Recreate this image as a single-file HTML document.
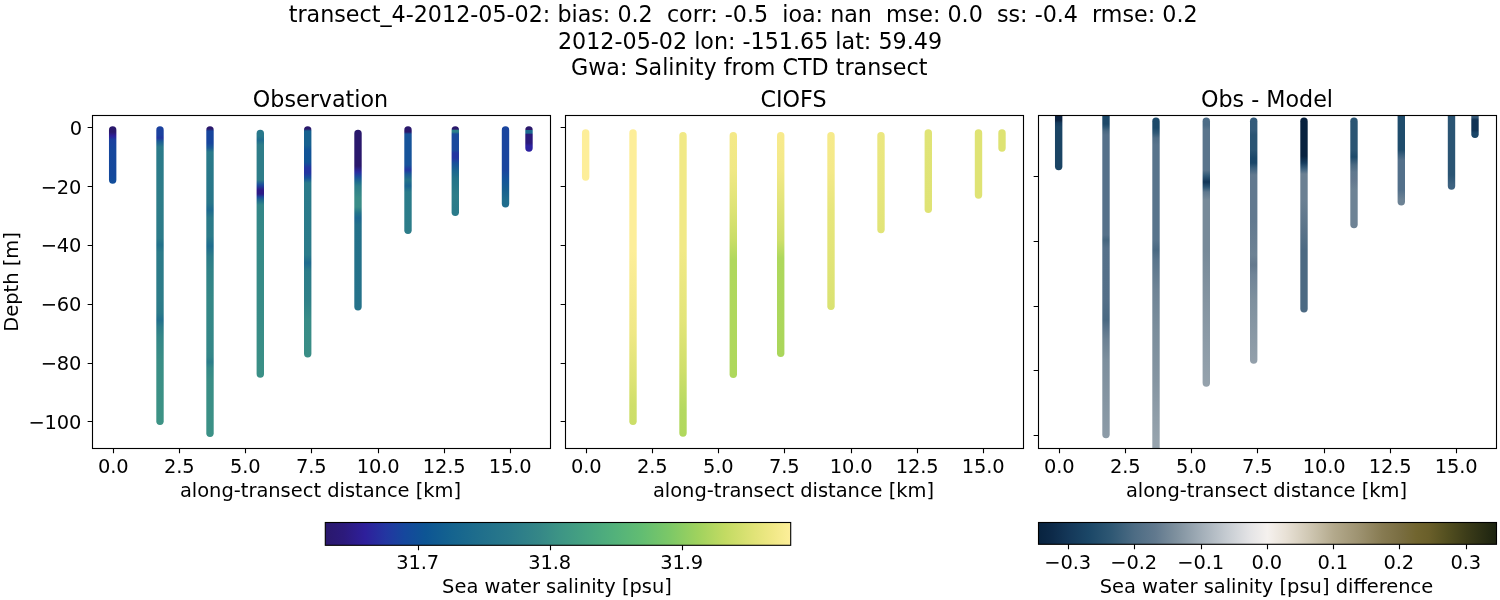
<!DOCTYPE html>
<html><head><meta charset="utf-8"><title>transect_4-2012-05-02</title>
<style>
html,body{margin:0;padding:0;background:#fff;}
body{width:1500px;height:600px;overflow:hidden;}
svg{display:block;}
text{font-family:"DejaVu Sans", "Liberation Sans", sans-serif;fill:#000;}
.t16{font-size:22.22px;}
.t14{font-size:19.44px;}
.tk{letter-spacing:-0.12px;}
</style></head><body>
<svg width="1500" height="600" viewBox="0 0 1500 600">
<rect x="0" y="0" width="1500" height="600" fill="#ffffff"/>
<defs>
<clipPath id="cp0"><rect x="92.5" y="115.5" width="458.0" height="333.0"/></clipPath>
<linearGradient id="g0_0" gradientUnits="userSpaceOnUse" x1="0" y1="126" x2="0" y2="184"><stop offset="0.0000" stop-color="#2a186c"/><stop offset="0.1034" stop-color="#2a186c"/><stop offset="0.1724" stop-color="#2e1f9a"/><stop offset="0.2414" stop-color="#1a409f"/><stop offset="0.4138" stop-color="#15479d"/><stop offset="0.8448" stop-color="#14489c"/><stop offset="1.0000" stop-color="#114f9b"/></linearGradient>
<linearGradient id="g0_1" gradientUnits="userSpaceOnUse" x1="0" y1="126" x2="0" y2="425"><stop offset="0.0000" stop-color="#1b419e"/><stop offset="0.0301" stop-color="#1b419e"/><stop offset="0.0401" stop-color="#2334a0"/><stop offset="0.0502" stop-color="#1a5a95"/><stop offset="0.0702" stop-color="#2a7a8a"/><stop offset="0.2475" stop-color="#2e7d89"/><stop offset="0.3746" stop-color="#2c7b89"/><stop offset="0.3980" stop-color="#227089"/><stop offset="0.4214" stop-color="#2c7b89"/><stop offset="0.5819" stop-color="#2d7c89"/><stop offset="0.6254" stop-color="#2b7a89"/><stop offset="0.6488" stop-color="#226f8c"/><stop offset="0.6722" stop-color="#2d7d89"/><stop offset="0.7057" stop-color="#348788"/><stop offset="0.7826" stop-color="#3a8e86"/><stop offset="1.0000" stop-color="#3d9385"/></linearGradient>
<linearGradient id="g0_2" gradientUnits="userSpaceOnUse" x1="0" y1="126" x2="0" y2="437"><stop offset="0.0000" stop-color="#2a186c"/><stop offset="0.0096" stop-color="#2a186c"/><stop offset="0.0161" stop-color="#17459d"/><stop offset="0.0547" stop-color="#17459d"/><stop offset="0.0707" stop-color="#1a5b95"/><stop offset="0.0836" stop-color="#2a7a8a"/><stop offset="0.2476" stop-color="#287689"/><stop offset="0.2701" stop-color="#1e6a8e"/><stop offset="0.2958" stop-color="#2b7a89"/><stop offset="0.3537" stop-color="#2c7b89"/><stop offset="0.3859" stop-color="#1f6c8e"/><stop offset="0.4180" stop-color="#2c7c89"/><stop offset="0.4630" stop-color="#318388"/><stop offset="0.5595" stop-color="#358887"/><stop offset="0.7203" stop-color="#348788"/><stop offset="0.7428" stop-color="#338588"/><stop offset="0.7588" stop-color="#2c7c89"/><stop offset="0.7781" stop-color="#358987"/><stop offset="0.8167" stop-color="#3a8e86"/><stop offset="1.0000" stop-color="#3c9186"/></linearGradient>
<linearGradient id="g0_3" gradientUnits="userSpaceOnUse" x1="0" y1="129" x2="0" y2="378"><stop offset="0.0000" stop-color="#28788b"/><stop offset="0.0281" stop-color="#28788b"/><stop offset="0.0442" stop-color="#1f6c8e"/><stop offset="0.0643" stop-color="#2e7d89"/><stop offset="0.2048" stop-color="#2e7d89"/><stop offset="0.2249" stop-color="#1b4b9c"/><stop offset="0.2450" stop-color="#2d1a86"/><stop offset="0.2610" stop-color="#2d1a86"/><stop offset="0.2731" stop-color="#1c4a9c"/><stop offset="0.2851" stop-color="#1f6a8e"/><stop offset="0.3052" stop-color="#338688"/><stop offset="0.4859" stop-color="#358a87"/><stop offset="0.7671" stop-color="#388c87"/><stop offset="1.0000" stop-color="#3b9086"/></linearGradient>
<linearGradient id="g0_4" gradientUnits="userSpaceOnUse" x1="0" y1="126" x2="0" y2="357"><stop offset="0.0000" stop-color="#2a186c"/><stop offset="0.0130" stop-color="#2a186c"/><stop offset="0.0216" stop-color="#17618f"/><stop offset="0.0823" stop-color="#17618f"/><stop offset="0.1039" stop-color="#125397"/><stop offset="0.1558" stop-color="#0f5495"/><stop offset="0.1818" stop-color="#2335a1"/><stop offset="0.2035" stop-color="#2335a1"/><stop offset="0.2251" stop-color="#15529a"/><stop offset="0.2468" stop-color="#2a7a8a"/><stop offset="0.5584" stop-color="#2b7b8a"/><stop offset="0.5931" stop-color="#1f6a8e"/><stop offset="0.6277" stop-color="#2c7c89"/><stop offset="0.7532" stop-color="#2f8088"/><stop offset="0.8398" stop-color="#388c87"/><stop offset="1.0000" stop-color="#3a8e86"/></linearGradient>
<linearGradient id="g0_5" gradientUnits="userSpaceOnUse" x1="0" y1="129" x2="0" y2="310"><stop offset="0.0000" stop-color="#2a186c"/><stop offset="0.2044" stop-color="#2a186c"/><stop offset="0.2376" stop-color="#2b2a9f"/><stop offset="0.2652" stop-color="#1a4f9a"/><stop offset="0.2928" stop-color="#1f6d8d"/><stop offset="0.3149" stop-color="#2d7d89"/><stop offset="0.3812" stop-color="#3a8c87"/><stop offset="0.4309" stop-color="#3a8c87"/><stop offset="0.4641" stop-color="#237389"/><stop offset="0.4917" stop-color="#1d6790"/><stop offset="0.5304" stop-color="#237089"/><stop offset="0.9448" stop-color="#25728a"/><stop offset="1.0000" stop-color="#26738a"/></linearGradient>
<linearGradient id="g0_6" gradientUnits="userSpaceOnUse" x1="0" y1="126" x2="0" y2="234"><stop offset="0.0000" stop-color="#2a186c"/><stop offset="0.0556" stop-color="#2a186c"/><stop offset="0.0741" stop-color="#16539a"/><stop offset="0.3611" stop-color="#16539a"/><stop offset="0.4074" stop-color="#2336a1"/><stop offset="0.4444" stop-color="#1a5996"/><stop offset="0.5000" stop-color="#237389"/><stop offset="0.5556" stop-color="#1a6490"/><stop offset="0.6111" stop-color="#2a7b8a"/><stop offset="1.0000" stop-color="#2d7d89"/></linearGradient>
<linearGradient id="g0_7" gradientUnits="userSpaceOnUse" x1="0" y1="126" x2="0" y2="216"><stop offset="0.0000" stop-color="#2a186c"/><stop offset="0.0333" stop-color="#2a186c"/><stop offset="0.0500" stop-color="#2a808a"/><stop offset="0.0667" stop-color="#2a808a"/><stop offset="0.0889" stop-color="#1a4a9d"/><stop offset="0.2667" stop-color="#1a4a9d"/><stop offset="0.3000" stop-color="#2336a1"/><stop offset="0.3556" stop-color="#2336a1"/><stop offset="0.4111" stop-color="#17509a"/><stop offset="0.4889" stop-color="#1a6490"/><stop offset="0.5778" stop-color="#237389"/><stop offset="0.7667" stop-color="#2d7d89"/><stop offset="1.0000" stop-color="#2a7a8a"/></linearGradient>
<linearGradient id="g0_8" gradientUnits="userSpaceOnUse" x1="0" y1="126" x2="0" y2="208"><stop offset="0.0000" stop-color="#1a459e"/><stop offset="0.5366" stop-color="#1a459e"/><stop offset="0.6585" stop-color="#14559a"/><stop offset="0.7805" stop-color="#17608f"/><stop offset="0.9024" stop-color="#1f6d8d"/><stop offset="1.0000" stop-color="#1f6d8d"/></linearGradient>
<linearGradient id="g0_9" gradientUnits="userSpaceOnUse" x1="0" y1="126" x2="0" y2="152"><stop offset="0.0000" stop-color="#2a186c"/><stop offset="0.1346" stop-color="#2a186c"/><stop offset="0.1731" stop-color="#1c6a8f"/><stop offset="0.2692" stop-color="#1c6a8f"/><stop offset="0.3269" stop-color="#2b1a7c"/><stop offset="0.6538" stop-color="#2b1a7c"/><stop offset="0.7692" stop-color="#2d22a0"/><stop offset="1.0000" stop-color="#2d22a0"/></linearGradient>
<clipPath id="cp1"><rect x="565.5" y="115.5" width="458.0" height="333.0"/></clipPath>
<linearGradient id="g1_0" gradientUnits="userSpaceOnUse" x1="0" y1="129" x2="0" y2="181"><stop offset="0.0000" stop-color="#fdee99"/><stop offset="1.0000" stop-color="#fdee99"/></linearGradient>
<linearGradient id="g1_1" gradientUnits="userSpaceOnUse" x1="0" y1="129" x2="0" y2="425"><stop offset="0.0000" stop-color="#fdee99"/><stop offset="0.4088" stop-color="#fdee99"/><stop offset="0.6791" stop-color="#f0e886"/><stop offset="0.8480" stop-color="#dde374"/><stop offset="0.9324" stop-color="#cfdf6a"/><stop offset="1.0000" stop-color="#cbde68"/></linearGradient>
<linearGradient id="g1_2" gradientUnits="userSpaceOnUse" x1="0" y1="132" x2="0" y2="437"><stop offset="0.0000" stop-color="#f1e986"/><stop offset="0.3869" stop-color="#f1e986"/><stop offset="0.6164" stop-color="#e3e579"/><stop offset="0.7803" stop-color="#cfdf6a"/><stop offset="0.9115" stop-color="#b4d960"/><stop offset="1.0000" stop-color="#b0d85d"/></linearGradient>
<linearGradient id="g1_3" gradientUnits="userSpaceOnUse" x1="0" y1="132" x2="0" y2="378"><stop offset="0.0000" stop-color="#f4e988"/><stop offset="0.1545" stop-color="#f0e885"/><stop offset="0.3171" stop-color="#dde374"/><stop offset="0.4390" stop-color="#c9dd67"/><stop offset="0.5203" stop-color="#b0d85d"/><stop offset="1.0000" stop-color="#aed85c"/></linearGradient>
<linearGradient id="g1_4" gradientUnits="userSpaceOnUse" x1="0" y1="132" x2="0" y2="357"><stop offset="0.0000" stop-color="#f8ea8d"/><stop offset="0.1689" stop-color="#f3e988"/><stop offset="0.3467" stop-color="#dfe376"/><stop offset="0.4800" stop-color="#cfdf6a"/><stop offset="0.5600" stop-color="#aed85c"/><stop offset="1.0000" stop-color="#aad65b"/></linearGradient>
<linearGradient id="g1_5" gradientUnits="userSpaceOnUse" x1="0" y1="132" x2="0" y2="310"><stop offset="0.0000" stop-color="#f6ea8b"/><stop offset="0.2135" stop-color="#f4e989"/><stop offset="0.4382" stop-color="#e7e67c"/><stop offset="0.7191" stop-color="#e1e477"/><stop offset="1.0000" stop-color="#d9e272"/></linearGradient>
<linearGradient id="g1_6" gradientUnits="userSpaceOnUse" x1="0" y1="132" x2="0" y2="233"><stop offset="0.0000" stop-color="#ebe780"/><stop offset="0.4752" stop-color="#e8e67d"/><stop offset="1.0000" stop-color="#e1e477"/></linearGradient>
<linearGradient id="g1_7" gradientUnits="userSpaceOnUse" x1="0" y1="129" x2="0" y2="213"><stop offset="0.0000" stop-color="#e0e476"/><stop offset="1.0000" stop-color="#dfe375"/></linearGradient>
<linearGradient id="g1_8" gradientUnits="userSpaceOnUse" x1="0" y1="129" x2="0" y2="199"><stop offset="0.0000" stop-color="#dfe374"/><stop offset="1.0000" stop-color="#dfe374"/></linearGradient>
<linearGradient id="g1_9" gradientUnits="userSpaceOnUse" x1="0" y1="129" x2="0" y2="152"><stop offset="0.0000" stop-color="#dee373"/><stop offset="1.0000" stop-color="#dee373"/></linearGradient>
<clipPath id="cp2"><rect x="1038.5" y="115.5" width="458.0" height="333.0"/></clipPath>
<linearGradient id="g2_0" gradientUnits="userSpaceOnUse" x1="0" y1="115" x2="0" y2="171"><stop offset="0.0000" stop-color="#0c2340"/><stop offset="0.0893" stop-color="#0c2340"/><stop offset="0.1429" stop-color="#153b5d"/><stop offset="0.2143" stop-color="#1a4464"/><stop offset="1.0000" stop-color="#1a4464"/></linearGradient>
<linearGradient id="g2_1" gradientUnits="userSpaceOnUse" x1="0" y1="115" x2="0" y2="438"><stop offset="0.0000" stop-color="#1c4868"/><stop offset="0.0279" stop-color="#1c4868"/><stop offset="0.0372" stop-color="#2b5573"/><stop offset="0.0495" stop-color="#4a6982"/><stop offset="0.0619" stop-color="#56718a"/><stop offset="0.3715" stop-color="#56718a"/><stop offset="0.3870" stop-color="#46667f"/><stop offset="0.4118" stop-color="#56718a"/><stop offset="0.5728" stop-color="#546f88"/><stop offset="0.6347" stop-color="#4a6982"/><stop offset="0.6594" stop-color="#5a748b"/><stop offset="0.6966" stop-color="#6d8294"/><stop offset="0.7585" stop-color="#7d8f9d"/><stop offset="0.8824" stop-color="#8595a2"/><stop offset="1.0000" stop-color="#8c9ba7"/></linearGradient>
<linearGradient id="g2_2" gradientUnits="userSpaceOnUse" x1="0" y1="117" x2="0" y2="449"><stop offset="0.0000" stop-color="#1d4a6a"/><stop offset="0.0331" stop-color="#1d4a6a"/><stop offset="0.0482" stop-color="#2f5876"/><stop offset="0.0633" stop-color="#4f6d86"/><stop offset="0.0843" stop-color="#58748c"/><stop offset="0.3705" stop-color="#58748c"/><stop offset="0.4006" stop-color="#4a6982"/><stop offset="0.4307" stop-color="#5a758c"/><stop offset="0.5211" stop-color="#6f8496"/><stop offset="0.6416" stop-color="#7b8e9c"/><stop offset="0.7922" stop-color="#8595a2"/><stop offset="0.9729" stop-color="#96a3ad"/><stop offset="1.0000" stop-color="#96a3ad"/></linearGradient>
<linearGradient id="g2_3" gradientUnits="userSpaceOnUse" x1="0" y1="117" x2="0" y2="387"><stop offset="0.0000" stop-color="#4c6c86"/><stop offset="0.0296" stop-color="#4c6c86"/><stop offset="0.0481" stop-color="#5a758c"/><stop offset="0.1963" stop-color="#5a758c"/><stop offset="0.2185" stop-color="#2f5876"/><stop offset="0.2407" stop-color="#103557"/><stop offset="0.2593" stop-color="#2a5473"/><stop offset="0.2778" stop-color="#5f788e"/><stop offset="0.3074" stop-color="#778a99"/><stop offset="0.4926" stop-color="#778a99"/><stop offset="0.6778" stop-color="#8494a1"/><stop offset="0.8259" stop-color="#8c9ba7"/><stop offset="1.0000" stop-color="#95a2ac"/></linearGradient>
<linearGradient id="g2_4" gradientUnits="userSpaceOnUse" x1="0" y1="117" x2="0" y2="364"><stop offset="0.0000" stop-color="#345b7a"/><stop offset="0.0526" stop-color="#345b7a"/><stop offset="0.0729" stop-color="#2a5473"/><stop offset="0.1336" stop-color="#2a5473"/><stop offset="0.1660" stop-color="#1b4769"/><stop offset="0.1862" stop-color="#1b4769"/><stop offset="0.2065" stop-color="#3c617e"/><stop offset="0.2348" stop-color="#62798f"/><stop offset="0.4170" stop-color="#62798f"/><stop offset="0.5587" stop-color="#6d8294"/><stop offset="0.5992" stop-color="#64798d"/><stop offset="0.6397" stop-color="#708497"/><stop offset="0.7409" stop-color="#7e909e"/><stop offset="1.0000" stop-color="#93a0ab"/></linearGradient>
<linearGradient id="g2_5" gradientUnits="userSpaceOnUse" x1="0" y1="117" x2="0" y2="313"><stop offset="0.0000" stop-color="#08223f"/><stop offset="0.1990" stop-color="#08223f"/><stop offset="0.2347" stop-color="#153c5e"/><stop offset="0.2653" stop-color="#3f6380"/><stop offset="0.2908" stop-color="#6b8093"/><stop offset="0.4235" stop-color="#6b8093"/><stop offset="0.5765" stop-color="#5a7389"/><stop offset="0.6786" stop-color="#4c6a83"/><stop offset="1.0000" stop-color="#4c6a83"/></linearGradient>
<linearGradient id="g2_6" gradientUnits="userSpaceOnUse" x1="0" y1="117" x2="0" y2="228"><stop offset="0.0000" stop-color="#2b5573"/><stop offset="0.2973" stop-color="#2b5573"/><stop offset="0.3604" stop-color="#1e4b6b"/><stop offset="0.4324" stop-color="#4a6982"/><stop offset="0.4955" stop-color="#5f788e"/><stop offset="0.5676" stop-color="#64798f"/><stop offset="0.6577" stop-color="#6e8395"/><stop offset="1.0000" stop-color="#6e8395"/></linearGradient>
<linearGradient id="g2_7" gradientUnits="userSpaceOnUse" x1="0" y1="115" x2="0" y2="206"><stop offset="0.0000" stop-color="#1f4c6c"/><stop offset="0.3846" stop-color="#1f4c6c"/><stop offset="0.4396" stop-color="#3a5f7d"/><stop offset="0.4945" stop-color="#53708a"/><stop offset="0.8242" stop-color="#53708a"/><stop offset="0.9341" stop-color="#6c8294"/><stop offset="1.0000" stop-color="#6c8294"/></linearGradient>
<linearGradient id="g2_8" gradientUnits="userSpaceOnUse" x1="0" y1="115" x2="0" y2="190"><stop offset="0.0000" stop-color="#2a5473"/><stop offset="0.8000" stop-color="#2a5473"/><stop offset="0.9333" stop-color="#3d6280"/><stop offset="1.0000" stop-color="#3d6280"/></linearGradient>
<linearGradient id="g2_9" gradientUnits="userSpaceOnUse" x1="0" y1="115" x2="0" y2="138"><stop offset="0.0000" stop-color="#3a5f7d"/><stop offset="0.0870" stop-color="#3a5f7d"/><stop offset="0.2174" stop-color="#0f3254"/><stop offset="0.6522" stop-color="#0f3254"/><stop offset="0.7826" stop-color="#1a4668"/><stop offset="1.0000" stop-color="#1a4668"/></linearGradient>
<linearGradient id="hal" x1="0" y1="0" x2="1" y2="0"><stop offset="0" stop-color="#2a186c"/><stop offset="0.04" stop-color="#2c1a7c"/><stop offset="0.085" stop-color="#2e1f9b"/><stop offset="0.13" stop-color="#2336a1"/><stop offset="0.17" stop-color="#15479d"/><stop offset="0.215" stop-color="#0d5594"/><stop offset="0.27" stop-color="#14638f"/><stop offset="0.33" stop-color="#1f6e8c"/><stop offset="0.4" stop-color="#2a7a8a"/><stop offset="0.46" stop-color="#358787"/><stop offset="0.505" stop-color="#3d9585"/><stop offset="0.56" stop-color="#46a381"/><stop offset="0.62" stop-color="#52b17b"/><stop offset="0.68" stop-color="#62bd72"/><stop offset="0.74" stop-color="#7cc867"/><stop offset="0.8" stop-color="#9fd25e"/><stop offset="0.86" stop-color="#c3db63"/><stop offset="0.92" stop-color="#e0e377"/><stop offset="0.96" stop-color="#f0e886"/><stop offset="1" stop-color="#fdef9a"/></linearGradient>
<linearGradient id="dif" x1="0" y1="0" x2="1" y2="0"><stop offset="0" stop-color="#08233f"/><stop offset="0.03" stop-color="#0d2a49"/><stop offset="0.07" stop-color="#15395a"/><stop offset="0.11" stop-color="#1b4767"/><stop offset="0.16" stop-color="#2f5874"/><stop offset="0.21" stop-color="#4d6c84"/><stop offset="0.255" stop-color="#61798e"/><stop offset="0.3" stop-color="#7e909e"/><stop offset="0.355" stop-color="#a2aeb8"/><stop offset="0.41" stop-color="#c5cbd1"/><stop offset="0.46" stop-color="#e3e3e5"/><stop offset="0.5" stop-color="#f5f1ee"/><stop offset="0.54" stop-color="#e8e1d6"/><stop offset="0.59" stop-color="#d0c8b4"/><stop offset="0.645" stop-color="#b3a98c"/><stop offset="0.7" stop-color="#9d9270"/><stop offset="0.75" stop-color="#877b52"/><stop offset="0.79" stop-color="#7a6e42"/><stop offset="0.825" stop-color="#71652f"/><stop offset="0.852" stop-color="#6a5f2a"/><stop offset="0.89" stop-color="#545020"/><stop offset="0.935" stop-color="#3c3c19"/><stop offset="1" stop-color="#1c2310"/></linearGradient>
</defs>
<g clip-path="url(#cp0)">
<rect x="108.97" y="126.3" width="7.4" height="57.40" rx="3.7" ry="3.7" fill="url(#g0_0)"/>
<rect x="156.30" y="126.3" width="7.4" height="298.70" rx="3.7" ry="3.7" fill="url(#g0_1)"/>
<rect x="206.30" y="126.3" width="7.4" height="310.70" rx="3.7" ry="3.7" fill="url(#g0_2)"/>
<rect x="256.60" y="129.7" width="7.4" height="248.10" rx="3.7" ry="3.7" fill="url(#g0_3)"/>
<rect x="304.00" y="126.3" width="7.4" height="231.20" rx="3.7" ry="3.7" fill="url(#g0_4)"/>
<rect x="354.30" y="129.7" width="7.4" height="180.70" rx="3.7" ry="3.7" fill="url(#g0_5)"/>
<rect x="404.30" y="126.3" width="7.4" height="107.70" rx="3.7" ry="3.7" fill="url(#g0_6)"/>
<rect x="451.60" y="126.3" width="7.4" height="89.70" rx="3.7" ry="3.7" fill="url(#g0_7)"/>
<rect x="501.80" y="126.3" width="7.4" height="81.20" rx="3.7" ry="3.7" fill="url(#g0_8)"/>
<rect x="525.30" y="126.3" width="7.4" height="25.40" rx="3.7" ry="3.7" fill="url(#g0_9)"/>
</g>
<g clip-path="url(#cp1)">
<rect x="581.97" y="129.2" width="7.4" height="51.60" rx="3.7" ry="3.7" fill="url(#g1_0)"/>
<rect x="629.30" y="129.2" width="7.4" height="295.80" rx="3.7" ry="3.7" fill="url(#g1_1)"/>
<rect x="679.30" y="132.0" width="7.4" height="304.70" rx="3.7" ry="3.7" fill="url(#g1_2)"/>
<rect x="729.60" y="132.0" width="7.4" height="246.00" rx="3.7" ry="3.7" fill="url(#g1_3)"/>
<rect x="777.00" y="132.0" width="7.4" height="225.00" rx="3.7" ry="3.7" fill="url(#g1_4)"/>
<rect x="827.30" y="132.0" width="7.4" height="178.00" rx="3.7" ry="3.7" fill="url(#g1_5)"/>
<rect x="877.30" y="132.0" width="7.4" height="101.30" rx="3.7" ry="3.7" fill="url(#g1_6)"/>
<rect x="924.60" y="129.2" width="7.4" height="83.80" rx="3.7" ry="3.7" fill="url(#g1_7)"/>
<rect x="974.80" y="129.2" width="7.4" height="69.50" rx="3.7" ry="3.7" fill="url(#g1_8)"/>
<rect x="998.30" y="129.2" width="7.4" height="22.50" rx="3.7" ry="3.7" fill="url(#g1_9)"/>
</g>
<g clip-path="url(#cp2)">
<rect x="1054.97" y="105.0" width="7.4" height="65.30" rx="3.7" ry="3.7" fill="url(#g2_0)"/>
<rect x="1102.30" y="105.0" width="7.4" height="333.30" rx="3.7" ry="3.7" fill="url(#g2_1)"/>
<rect x="1152.30" y="117.5" width="7.4" height="352.50" rx="3.7" ry="3.7" fill="url(#g2_2)"/>
<rect x="1202.60" y="117.5" width="7.4" height="269.20" rx="3.7" ry="3.7" fill="url(#g2_3)"/>
<rect x="1250.00" y="117.5" width="7.4" height="246.30" rx="3.7" ry="3.7" fill="url(#g2_4)"/>
<rect x="1300.30" y="117.5" width="7.4" height="195.00" rx="3.7" ry="3.7" fill="url(#g2_5)"/>
<rect x="1350.30" y="117.5" width="7.4" height="110.80" rx="3.7" ry="3.7" fill="url(#g2_6)"/>
<rect x="1397.60" y="105.0" width="7.4" height="100.40" rx="3.7" ry="3.7" fill="url(#g2_7)"/>
<rect x="1447.80" y="105.0" width="7.4" height="84.70" rx="3.7" ry="3.7" fill="url(#g2_8)"/>
<rect x="1471.30" y="105.0" width="7.4" height="33.00" rx="3.7" ry="3.7" fill="url(#g2_9)"/>
</g>
<g stroke="#000" stroke-width="1.11" fill="none">
<rect x="92.5" y="115.5" width="458.0" height="333.0"/>
<path d="M113.50 448.5v4.86M179.50 448.5v4.86M245.50 448.5v4.86M311.50 448.5v4.86M378.50 448.5v4.86M444.50 448.5v4.86M510.50 448.5v4.86M92.5 127.50h-4.86M92.5 186.50h-4.86M92.5 245.50h-4.86M92.5 304.50h-4.86M92.5 363.50h-4.86M92.5 421.50h-4.86"/>
<rect x="565.5" y="115.5" width="458.0" height="333.0"/>
<path d="M586.50 448.5v4.86M652.50 448.5v4.86M718.50 448.5v4.86M784.50 448.5v4.86M851.50 448.5v4.86M917.50 448.5v4.86M983.50 448.5v4.86M565.5 127.50h-4.86M565.5 186.50h-4.86M565.5 245.50h-4.86M565.5 304.50h-4.86M565.5 363.50h-4.86M565.5 421.50h-4.86"/>
<rect x="1038.5" y="115.5" width="458.0" height="333.0"/>
<path d="M1059.50 448.5v4.86M1125.50 448.5v4.86M1191.50 448.5v4.86M1257.50 448.5v4.86M1324.50 448.5v4.86M1390.50 448.5v4.86M1456.50 448.5v4.86M1038.5 176.50h-4.86M1038.5 241.50h-4.86M1038.5 306.50h-4.86M1038.5 370.50h-4.86M1038.5 435.50h-4.86"/>
</g>
<g class="t14" text-anchor="middle">
<text class="tk" x="113.20" y="472.7">0.0</text>
<text class="tk" x="179.20" y="472.7">2.5</text>
<text class="tk" x="245.20" y="472.7">5.0</text>
<text class="tk" x="311.20" y="472.7">7.5</text>
<text class="tk" x="378.20" y="472.7">10.0</text>
<text class="tk" x="444.20" y="472.7">12.5</text>
<text class="tk" x="510.20" y="472.7">15.0</text>
<text x="320.50" y="497.3">along-transect distance [km]</text>
<text class="tk" x="586.20" y="472.7">0.0</text>
<text class="tk" x="652.20" y="472.7">2.5</text>
<text class="tk" x="718.20" y="472.7">5.0</text>
<text class="tk" x="784.20" y="472.7">7.5</text>
<text class="tk" x="851.20" y="472.7">10.0</text>
<text class="tk" x="917.20" y="472.7">12.5</text>
<text class="tk" x="983.20" y="472.7">15.0</text>
<text x="793.50" y="497.3">along-transect distance [km]</text>
<text class="tk" x="1059.20" y="472.7">0.0</text>
<text class="tk" x="1125.20" y="472.7">2.5</text>
<text class="tk" x="1191.20" y="472.7">5.0</text>
<text class="tk" x="1257.20" y="472.7">7.5</text>
<text class="tk" x="1324.20" y="472.7">10.0</text>
<text class="tk" x="1390.20" y="472.7">12.5</text>
<text class="tk" x="1456.20" y="472.7">15.0</text>
<text x="1266.50" y="497.3">along-transect distance [km]</text>
</g>
<g class="t14" text-anchor="end">
<text class="tk" x="82.0" y="134.80">0</text>
<text class="tk" x="81.3" y="193.80">−20</text>
<text class="tk" x="81.3" y="252.30">−40</text>
<text class="tk" x="81.3" y="311.30">−60</text>
<text class="tk" x="81.3" y="370.10">−80</text>
<text class="tk" x="81.3" y="428.80">−100</text>
</g>
<text class="t14" text-anchor="middle" transform="translate(18.2 282) rotate(-90)">Depth [m]</text>
<g class="t16" text-anchor="middle">
<text x="320.50" y="106.9">Observation</text>
<text x="793.50" y="106.9">CIOFS</text>
<text x="1267.00" y="106.9">Obs - Model</text>
<text x="743.2" y="21.6" xml:space="preserve" style="white-space:pre">transect_4-2012-05-02: bias: 0.2  corr: -0.5  ioa: nan  mse: 0.0  ss: -0.4  rmse: 0.2</text>
<text x="750" y="49.2">2012-05-02 lon: -151.65 lat: 59.49</text>
<text x="749.2" y="74.9">Gwa: Salinity from CTD transect</text>
</g>
<rect x="325.3" y="522.5" width="465.40000000000003" height="22.799999999999955" fill="url(#hal)" stroke="#000" stroke-width="1.11"/>
<path d="M418.50 545.3v4.86M550.50 545.3v4.86M682.50 545.3v4.86" stroke="#000" stroke-width="1.11" fill="none"/>
<g class="t14" text-anchor="middle">
<text class="tk" x="417.70" y="569.4">31.7</text>
<text class="tk" x="549.70" y="569.4">31.8</text>
<text class="tk" x="681.70" y="569.4">31.9</text>
<text x="557.00" y="593.3">Sea water salinity [psu]</text>
</g>
<rect x="1038.5" y="522.5" width="458.0" height="21.799999999999955" fill="url(#dif)" stroke="#000" stroke-width="1.11"/>
<path d="M1068.50 544.3v4.86M1134.50 544.3v4.86M1201.50 544.3v4.86M1267.50 544.3v4.86M1333.50 544.3v4.86M1399.50 544.3v4.86M1466.50 544.3v4.86" stroke="#000" stroke-width="1.11" fill="none"/>
<g class="t14" text-anchor="middle">
<text class="tk" x="1067.70" y="568.8">−0.3</text>
<text class="tk" x="1133.70" y="568.8">−0.2</text>
<text class="tk" x="1200.70" y="568.8">−0.1</text>
<text class="tk" x="1266.70" y="568.8">0.0</text>
<text class="tk" x="1332.70" y="568.8">0.1</text>
<text class="tk" x="1398.70" y="568.8">0.2</text>
<text class="tk" x="1465.70" y="568.8">0.3</text>
<text x="1266.50" y="593.1">Sea water salinity [psu] difference</text>
</g>
</svg></body></html>
